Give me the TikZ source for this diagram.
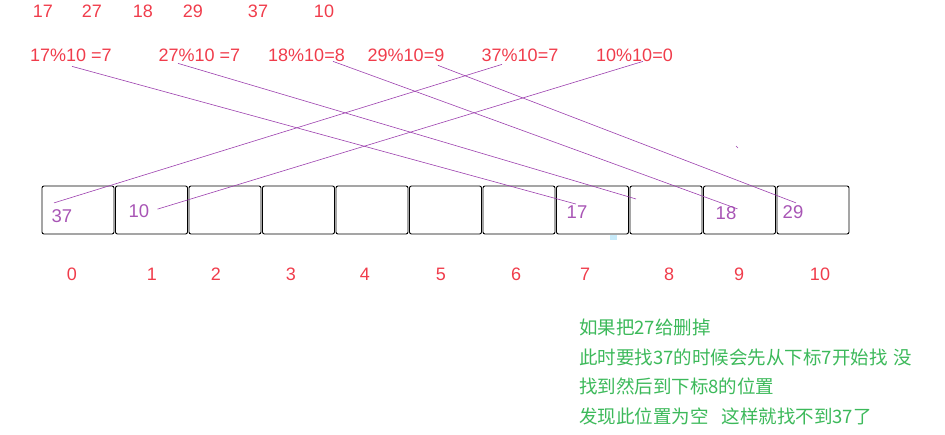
\documentclass[tikz,border=0pt]{standalone}
\usepackage{fontspec}
\setmainfont{Liberation Sans}
\newfontfamily\cjk{Noto Sans CJK SC}
\usetikzlibrary{positioning, calc}

\definecolor{keyred}{RGB}{240,60,75}
\definecolor{slotpurple}{RGB}{168,85,181}
\definecolor{linkpurple}{RGB}{156,63,174}
\definecolor{notegreen}{RGB}{60,185,90}
\definecolor{speckblue}{RGB}{200,235,250}

\begin{document}
\begin{tikzpicture}[x=1pt, y=-1pt,
    keylabel/.style={text=keyred, font=\fontsize{18}{18}\selectfont, inner sep=0pt, anchor=base},
    slot/.style={draw, rounded corners=2pt, line width=0.9pt, minimum width=72pt, minimum height=48pt, inner sep=0pt},
    slotval/.style={text=slotpurple, font=\fontsize{18.5}{18.5}\selectfont, inner sep=0pt, anchor=base},
    link/.style={linkpurple, line width=0.6pt},
    note/.style={text=notegreen, font=\cjk\fontsize{18.5}{18.5}\selectfont, inner sep=0pt, anchor=base west}]

    % Canvas
    \useasboundingbox (0,0) rectangle (945,435);

    % Keys to insert
    \foreach \k/\x in {17/43, 27/92, 18/143, 29/193, 37/258, 10/324}
        \node[keylabel] (k\k) at (\x,18) {\k};

    % Hash of each key
    \node[keylabel] (h17) at (71,62) {17\%10 =7};
    \node[keylabel] (h27) at (199.5,62) {27\%10 =7};
    \node[keylabel] (h18) at (306.5,62) {18\%10=8};
    \node[keylabel] (h29) at (406,62) {29\%10=9};
    \node[keylabel] (h37) at (520,62) {37\%10=7};
    \node[keylabel] (h10) at (634.5,62) {10\%10=0};

    % Table slots and their indices
    \foreach \i in {0,...,10}
        \node[slot] (b\i) at ({78+73.5*\i},210) {};
    \foreach \i/\x in {0/72, 1/152, 2/216, 3/291, 4/365, 5/441, 6/516, 7/585, 8/669, 9/739, 10/820}
        \node[keylabel] (n\i) at (\x,281) {\i};

    % Stored values
    \node[slotval] (v37) at (62,223) {37};
    \node[slotval] (v10) at (139,218) {10};
    \node[slotval] (v17) at (577,219) {17};
    \node[slotval] (v18) at (726,220) {18};
    \node[slotval] (v29) at (793,219) {29};

    % Links from hash to slot
    \draw[link] ([shift={(1,4)}]h17.south) -- ([shift={(-1,-2)}]v17.north);
    \draw[link] ([shift={(-21.5,1)}]h27.south) -- ([shift={(-30,-11)}]b8.center);
    \draw[link] ([shift={(26.5,-1)}]h18.south) -- ([shift={(1,2)}]v18.north east);
    \draw[link] ([shift={(32,3)}]h29.south) -- ([shift={(3,-3)}]v29.north);
    \draw[link] ([shift={(-18,2)}]h37.south) -- ([shift={(2.5,-7)}]v37.north west);
    \draw[link] ([shift={(8.5,-1)}]h10.south) -- ([shift={(8,-2.5)}]v10.east);

    % stray marks
    \draw[link] (736,146) -- (738,148);
    \fill[speckblue] (610,235) rectangle (617,240);

    % Note
    \node[note] (note1) at (579,335) {如果把27给删掉};
    \node[note] (note2) at (579,365) {此时要找37的时候会先从下标7开始找\hspace{0.35em}没};
    \node[note] (note3) at (579,394) {找到然后到下标8的位置};
    \node[note] (note4) at (579,424) {发现此位置为空\hspace{0.7em}这样就找不到37了};

\end{tikzpicture}
\end{document}
